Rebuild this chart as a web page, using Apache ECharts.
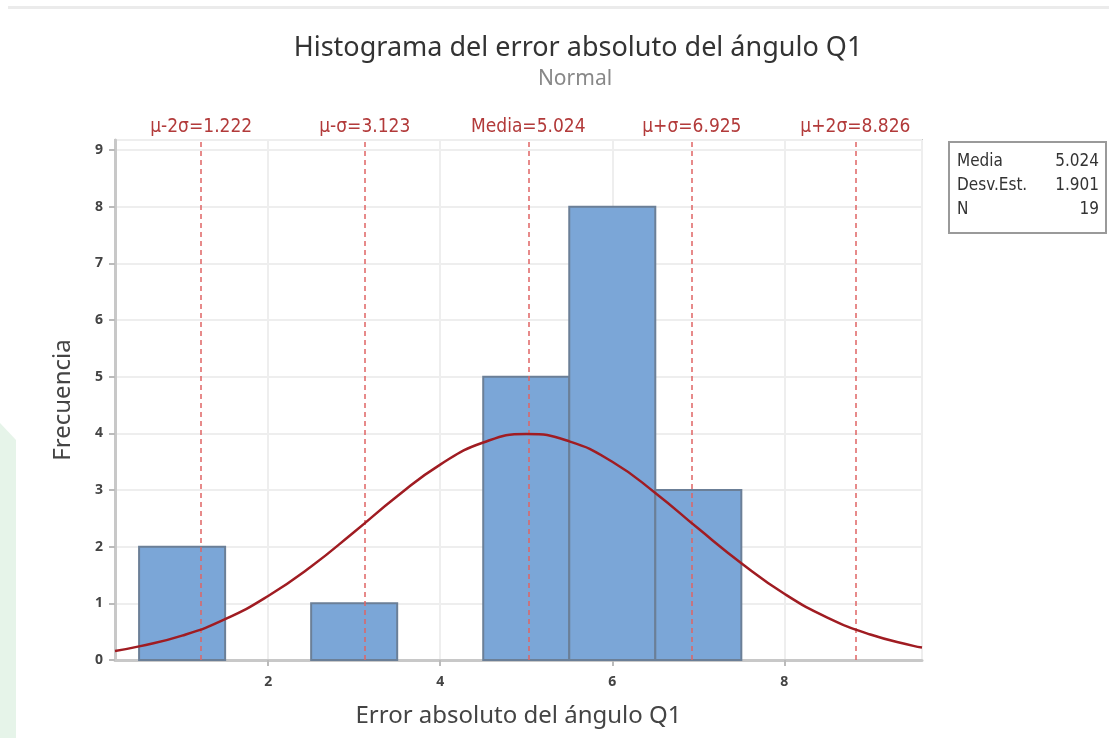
<!DOCTYPE html>
<html><head><meta charset="utf-8">
<script src="https://cdn.jsdelivr.net/npm/echarts@6/dist/echarts.min.js"></script>
<style>html,body{margin:0;padding:0;background:#fff;}#c{width:1109px;height:738px;}</style>
</head><body><div id="c"></div>
<script>
// Histogram bins
const binStart = [0.5, 2.5, 4.5, 5.5, 6.5];
const binEnd   = [1.5, 3.5, 5.5, 6.5, 7.5];
const counts   = [2, 1, 5, 8, 3];
// Fitted normal curve
const curveX = [0.22, 0.5, 1.0, 1.5, 2.0, 2.5, 3.0, 3.5, 4.0, 4.5, 5.0, 5.5, 6.0, 6.5, 7.0, 7.5, 8.0, 8.5, 9.0, 9.5, 9.6];
const curveY = [0.16, 0.24, 0.43, 0.72, 1.13, 1.65, 2.26, 2.89, 3.45, 3.84, 3.99, 3.86, 3.50, 2.95, 2.32, 1.71, 1.17, 0.75, 0.45, 0.25, 0.22];
// Reference lines
const refNames  = ['μ-2σ', 'μ-σ', 'Media', 'μ+σ', 'μ+2σ'];
const refValues = [1.222, 3.123, 5.024, 6.925, 8.826];
// Stats box
const statLabels = ['Media', 'Desv.Est.', 'N'];
const statValues = ['5.024', '1.901', '19'];

const COND = '"DejaVu Sans Condensed","Liberation Sans Narrow",sans-serif';
const SANS = '"Noto Sans","Open Sans",sans-serif';
const chart = echarts.init(document.getElementById('c'));

const statGraphics = [];
statLabels.forEach((l, i) => {
  statGraphics.push({type:'text', left: 957, top: 153 + i*24, style:{text:l, fill:'#333', font:'17px '+COND}});
  statGraphics.push({type:'text', right: 10, top: 153 + i*24, style:{text:statValues[i], fill:'#333', font:'17px '+COND}});
});

chart.setOption({
  animation:false,
  backgroundColor:'#fff',
  title:[{
    text:'Histograma del error absoluto del ángulo Q1',
    left: 573, top: 30, textAlign:'center',
    textStyle:{fontFamily:SANS, fontSize:27, fontWeight:'normal', color:'#333'}
  },{
    text:'Normal',
    left: 570, top: 64, textAlign:'center',
    textStyle:{fontFamily:SANS, fontSize:21, fontWeight:'normal', color:'#888'}
  }],
  graphic:[
    {type:'rect', left:8, top:6, shape:{width:1101, height:3}, style:{fill:'#ebebeb'}, silent:true},
    {type:'polygon', shape:{points:[[0,423],[16,440],[16,738],[0,738]]}, style:{fill:'#e6f4e9'}, silent:true, z:-1},
    {type:'rect', left:948, top:141, shape:{width:157, height:91}, style:{fill:'#fff', stroke:'#9a9a9a', lineWidth:2}},
    ...statGraphics
  ],
  grid:{left:115, right:187, top:140, bottom:78, show:true, borderColor:'#c8c8c8', borderWidth:2},
  xAxis:{
    type:'value', min:0.22, max:9.6,
    name:'Error absoluto del ángulo Q1', nameLocation:'middle', nameGap:44,
    nameTextStyle:{fontFamily:SANS, fontSize:24, color:'#444'},
    axisLine:{show:true, lineStyle:{color:'#c8c8c8', width:3}},
    axisTick:{show:true, length:6, lineStyle:{color:'#bbb', width:2}},
    axisLabel:{fontFamily:SANS, fontSize:14, color:'#444', fontWeight:'bold', margin:15, showMinLabel:false, showMaxLabel:false},
    splitLine:{show:true, lineStyle:{color:'#eeeeee', width:2}}
  },
  yAxis:{
    type:'value', min:0, max:9.18, interval:1,
    name:'Frecuencia', nameLocation:'middle', nameGap:40,
    nameTextStyle:{fontFamily:SANS, fontSize:24, color:'#444'},
    axisLine:{show:true, lineStyle:{color:'#c8c8c8', width:3}},
    axisTick:{show:true, length:6, lineStyle:{color:'#bbb', width:2}},
    axisLabel:{fontFamily:SANS, fontSize:14, color:'#444', fontWeight:'bold', margin:12, showMaxLabel:false},
    splitLine:{show:true, lineStyle:{color:'#eeeeee', width:2}}
  },
  series:[
    {
      type:'line', data:[], z:1, silent:true,
      markLine:{
        symbol:'none', silent:true, precision:3,
        lineStyle:{color:'#e06464', type:[5,4], width:1.5},
        label:{show:true, position:'end', distance:3, fontFamily:COND, fontSize:19, color:'#b23a3a',
               formatter: p => refNames[p.dataIndex] + '=' + refValues[p.dataIndex].toFixed(3)},
        data: refValues.map((v,i)=>({name:refNames[i], xAxis:v}))
      }
    },
    {
      type:'custom', z:3,
      data: counts.map((c,i)=>[binStart[i], binEnd[i], c]),
      renderItem:(params, api)=>{
        const p0 = api.coord([api.value(0), 0]);
        const p1 = api.coord([api.value(1), api.value(2)]);
        return {type:'rect', shape:{x:p0[0], y:p1[1], width:p1[0]-p0[0], height:p0[1]-p1[1]},
          style:{fill:'#7ba6d7', stroke:'#6b7f97', lineWidth:2}};
      }
    },
    {
      type:'line', z:5, smooth:true, symbol:'none',
      data: curveX.map((x,i)=>[x, curveY[i]]),
      lineStyle:{color:'#a01c22', width:2.5}
    }
  ]
});
</script></body></html>
